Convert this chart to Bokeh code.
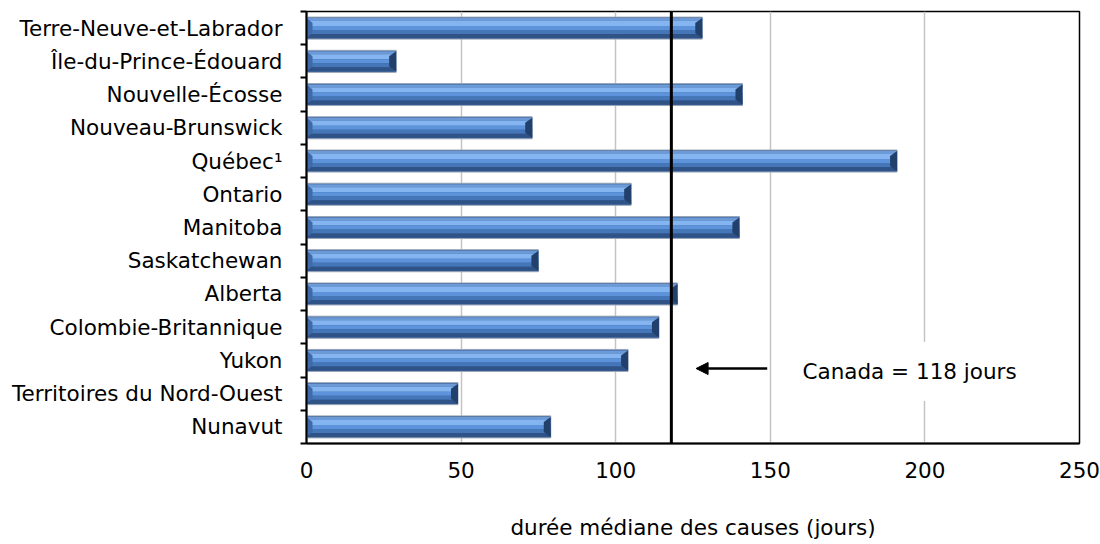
from bokeh.plotting import figure
from bokeh.models import (Range1d, FixedTicker, Span, Arrow, NormalHead, Label,
                          ColumnDataSource)
from bokeh.embed import file_html
from bokeh.resources import INLINE

# Durée médiane des causes, par province et territoire (jours)
provinces = [
    "Terre-Neuve-et-Labrador",
    "Île-du-Prince-Édouard",
    "Nouvelle-Écosse",
    "Nouveau-Brunswick",
    "Québec¹",
    "Ontario",
    "Manitoba",
    "Saskatchewan",
    "Alberta",
    "Colombie-Britannique",
    "Yukon",
    "Territoires du Nord-Ouest",
    "Nunavut",
]
durees = [128, 29, 141, 73, 191, 105, 140, 75, 120, 114, 104, 49, 79]
canada = 118
x_ticks = [0, 50, 100, 150, 200, 250]
x_title = "durée médiane des causes (jours)"

FONT = "DejaVu Sans"
FSIZE = "21.5px"
W, H = 1100, 544
FL, FR, FT, FB = 306, 1079, 11, 443
n = len(provinces)
XMAX = x_ticks[-1]
px_x = XMAX / (FR - FL)          # data units per pixel, horizontal
px_y = n / (FB - FT)             # data units per pixel, vertical

p = figure(width=W, height=H,
           x_range=Range1d(0, XMAX), y_range=Range1d(n - 0.5, -0.5),
           output_backend="svg", toolbar_location=None,
           min_border_left=FL, min_border_right=W - FR,
           min_border_top=FT, min_border_bottom=H - FB)
p.background_fill_color = "white"
p.border_fill_color = "white"
p.outline_line_color = "black"
p.outline_line_width = 1.5

# grid
p.ygrid.visible = False
p.xgrid.ticker = FixedTicker(ticks=x_ticks)
p.xgrid.grid_line_color = "#c4c4c4"
p.xgrid.grid_line_width = 1.5

# bevelled bars: stacked horizontal bands, then end facets
ys = list(range(n))
BAR = 22  # bar thickness in px
bands = [
    (0, 22, "#36609a"),
    (1, 4, "#6b9ad6"),
    (4, 9, "#84b5f0"),
    (9, 13, "#5c93da"),
    (13, 17, "#4576b8"),
    (17, 21, "#2f5287"),
]
for top, bot, col in bands:
    off = ((top + bot) / 2 - BAR / 2) * px_y
    src = ColumnDataSource(dict(y=[y + off for y in ys], right=durees))
    p.hbar(y="y", left=0, right="right", height=(bot - top) * px_y,
           source=src, fill_color=col,
           line_color="#9aa6b6" if top == 0 else None, line_width=1)

hb = BAR / 2 * px_y
bev = 7 * px_x
end_xs, end_ys, start_xs, start_ys = [], [], [], []
for y, v in zip(ys, durees):
    t, b = y - hb, y + hb
    end_xs.append([v - bev, v, v, v - bev])
    end_ys.append([t + 6 * px_y, t + 1 * px_y, b - 1 * px_y, b - 6 * px_y])
    start_xs.append([0, 6 * px_x, 6 * px_x, 0])
    start_ys.append([t + 1 * px_y, t + 6 * px_y, b - 6 * px_y, b - 1 * px_y])
p.patches(end_xs, end_ys, fill_color="#22406c", line_color=None)
p.patches(start_xs, start_ys, fill_color="#3e6aa8", line_color=None)

# national median line and its note
p.add_layout(Span(location=canada, dimension="height",
                  line_color="black", line_width=3))
y_note = -0.5 + (371 - FT) * px_y
p.add_layout(Arrow(end=NormalHead(size=12, fill_color="black", line_color="black"),
                   x_start=149, x_end=126, y_start=y_note - 0.09, y_end=y_note - 0.09,
                   line_color="black", line_width=2.5))
p.add_layout(Label(x=160.4 - 17 * px_x, y=y_note, text=f"Canada = {canada} jours",
                   text_font=FONT, text_font_size=FSIZE, text_color="black",
                   text_baseline="middle", text_align="left",
                   background_fill_color="white", padding=17))

# x axis
xa = p.xaxis[0]
xa.ticker = FixedTicker(ticks=x_ticks)
xa.axis_line_width = 2
xa.axis_line_color = "black"
xa.major_tick_out = 0
xa.major_tick_in = 0
xa.minor_tick_out = 0
xa.minor_tick_in = 0
xa.major_label_standoff = 18
xa.major_label_text_font = FONT
xa.major_label_text_font_size = FSIZE
xa.major_label_text_color = "black"
xa.axis_label = x_title
xa.axis_label_text_font = FONT
xa.axis_label_text_font_size = FSIZE
xa.axis_label_text_font_style = "normal"
xa.axis_label_text_color = "black"
xa.axis_label_standoff = 34

# y axis: names at band centres, short ticks at band edges
ya = p.yaxis[0]
ya.ticker = FixedTicker(ticks=ys, minor_ticks=[i - 0.5 for i in range(n + 1)])
ya.major_label_overrides = {i: name for i, name in enumerate(provinces)}
ya.axis_line_width = 2
ya.axis_line_color = "black"
ya.major_tick_out = 0
ya.major_tick_in = 0
ya.minor_tick_out = 6
ya.minor_tick_in = 0
ya.minor_tick_line_width = 2
ya.minor_tick_line_color = "black"
ya.major_label_standoff = 18
ya.major_label_text_font = FONT
ya.major_label_text_font_size = FSIZE
ya.major_label_text_color = "black"

open("out.html", "w").write(file_html(p, INLINE))
